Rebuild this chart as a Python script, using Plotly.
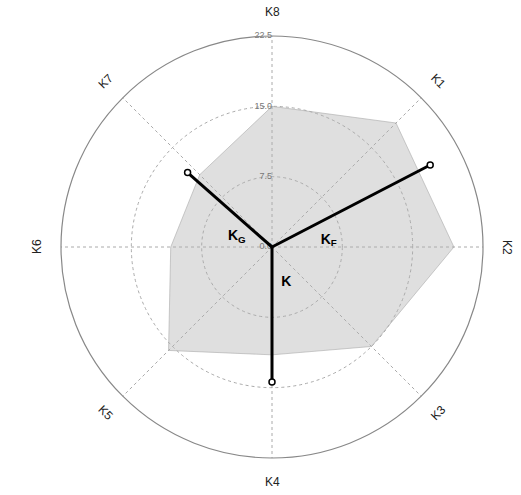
import math
import plotly.graph_objects as go

# ---- data ----
axis_labels = ["K8", "K1", "K2", "K3", "K4", "K5", "K6", "K7"]
axis_angles = [0, 45, 90, 135, 180, 225, 270, 315]
label_textangles = [0, 45, 90, -45, 0, 45, -90, -45]
profile_values = [15.0, 18.7, 19.4, 15.0, 11.5, 15.6, 10.8, 10.9]

vector_names = ["<b>K<sub>G</sub></b>", "<b>K<sub>F</sub></b>", "<b>K</b>"]
vector_angles = [311.4, 62.6, 180.0]
vector_lengths = [12.0, 19.0, 14.4]
vector_label_r = [3.9, 6.1, 4.1]
vector_label_theta = [286, 83, 158]

radial_ticks = [0, 7.5, 15, 22.5]
radial_ticktext = ["0.0", "7.5", "15.0", "22.5"]
r_max = 22.5

W, H = 521, 495
cx, cy, R = 272, 247, 211

fig = go.Figure()

# shaded profile polygon
fig.add_trace(go.Scatterpolar(
    r=profile_values + [profile_values[0]],
    theta=axis_angles + [axis_angles[0]],
    mode="lines",
    fill="toself",
    fillcolor="rgba(175,175,175,0.40)",
    line=dict(color="rgba(170,170,170,0.6)", width=1),
    hoverinfo="skip",
    showlegend=False,
))

# radial tick labels (horizontal, left of the vertical axis)
fig.add_trace(go.Scatterpolar(
    r=radial_ticks, theta=[0] * len(radial_ticks),
    mode="text", text=radial_ticktext, textposition="middle left",
    textfont=dict(family="Liberation Sans", size=9, color="#777777"),
    showlegend=False, hoverinfo="skip",
))

# vectors
for name, ang, ln in zip(vector_names, vector_angles, vector_lengths):
    fig.add_trace(go.Scatterpolar(
        r=[0, ln], theta=[ang, ang],
        mode="lines",
        line=dict(color="black", width=3),
        showlegend=False, hoverinfo="skip",
    ))
    fig.add_trace(go.Scatterpolar(
        r=[ln], theta=[ang],
        mode="markers",
        marker=dict(symbol="circle", size=6, color="white",
                    line=dict(color="black", width=1.5)),
        showlegend=False, hoverinfo="skip",
    ))

fig.add_trace(go.Scatterpolar(
    r=vector_label_r, theta=vector_label_theta,
    mode="text", text=vector_names,
    textfont=dict(family="Liberation Sans", size=14, color="black"),
    showlegend=False, hoverinfo="skip",
))

# angular labels as rotated annotations
annotations = []
for lab, ang, ta in zip(axis_labels, axis_angles, label_textangles):
    rr = R + 24
    x = cx + rr * math.sin(math.radians(ang))
    y = cy - rr * math.cos(math.radians(ang))
    annotations.append(dict(
        x=x / W, y=1 - y / H, xref="paper", yref="paper",
        text=lab, showarrow=False, textangle=ta,
        font=dict(family="Liberation Sans", size=12, color="#222222"),
        xanchor="center", yanchor="middle",
    ))

fig.update_layout(
    width=W, height=H,
    margin=dict(l=0, r=0, t=0, b=0),
    paper_bgcolor="white",
    plot_bgcolor="white",
    showlegend=False,
    annotations=annotations,
    polar=dict(
        domain=dict(x=[(cx - R) / W, (cx + R) / W],
                    y=[1 - (cy + R) / H, 1 - (cy - R) / H]),
        bgcolor="white",
        radialaxis=dict(
            range=[0, r_max], tickvals=radial_ticks,
            angle=90, showline=False, ticks="", showticklabels=False,
            gridcolor="#aaaaaa", griddash="dot", gridwidth=1,
        ),
        angularaxis=dict(
            rotation=90, direction="clockwise",
            tickvals=axis_angles, showticklabels=False, ticks="",
            gridcolor="#aaaaaa", griddash="3px,3px", gridwidth=1,
            showline=True, linecolor="#888888", linewidth=1.2,
        ),
    ),
)

fig.write_html("out.html", config={"displayModeBar": False},
               post_script="document.body.style.margin='0';document.body.style.overflow='hidden';")
